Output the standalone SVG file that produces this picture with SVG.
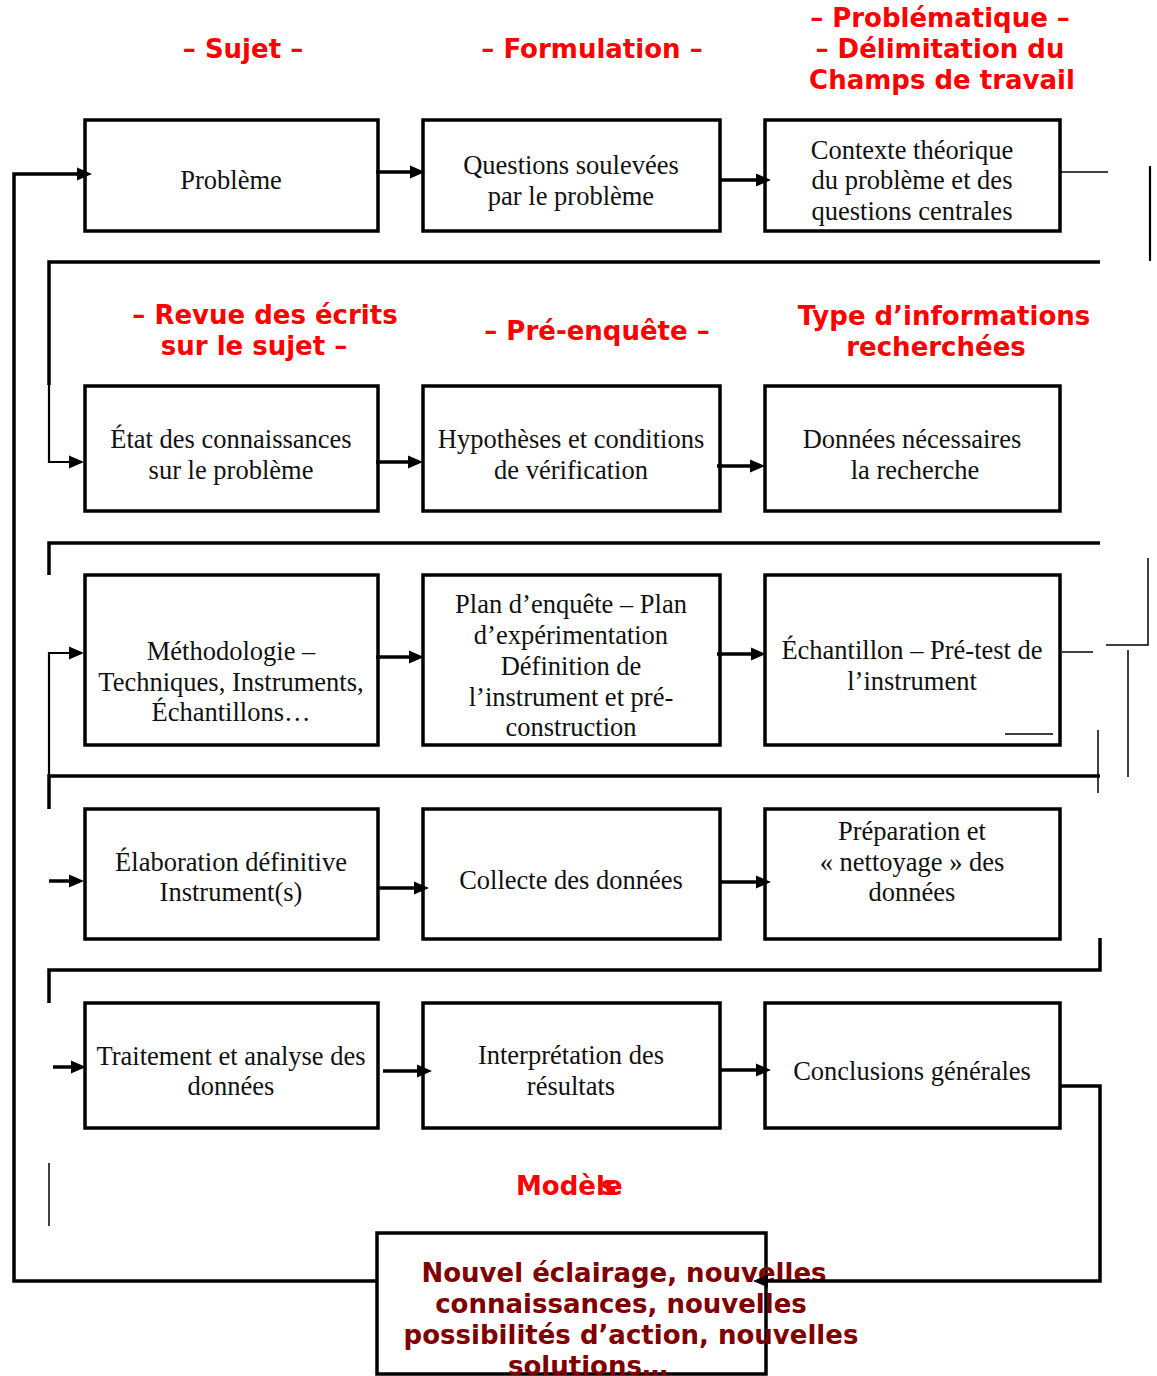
<svg xmlns="http://www.w3.org/2000/svg" width="1157" height="1376" viewBox="0 0 1157 1376">
<defs>
<path id="ah" d="M-15,-6.5 L0,0 L-15,6.5 z" fill="#000"/>
<style>
.box{fill:none;stroke:#000;stroke-width:3.5}
.t{font-family:"Liberation Serif","Times New Roman",serif;font-size:26.5px;fill:#111;text-anchor:middle}
.h{font-family:"DejaVu Sans",sans-serif;font-weight:bold;font-size:26px;fill:#ff0000;text-anchor:middle}
.b{font-family:"DejaVu Sans",sans-serif;font-weight:bold;font-size:26px;fill:#800000;text-anchor:middle}
.k{fill:none;stroke:#000;stroke-width:3.5}
.m{fill:none;stroke:#000;stroke-width:2.2}
.n{fill:none;stroke:#000;stroke-width:1.5}
.a{fill:none;stroke:#000;stroke-width:3.5}
</style>
</defs>
<rect width="1157" height="1376" fill="#fff"/>

<g id="headings">
<text class="h" x="243" y="58">– Sujet –</text>
<text class="h" x="592" y="58">– Formulation –</text>
<text class="h" x="940" y="27">– Problématique –</text>
<text class="h" x="940" y="58">– Délimitation du</text>
<text class="h" x="942" y="89">Champs de travail</text>
<text class="h" x="265" y="324">– Revue des écrits</text>
<text class="h" x="254" y="355">sur le sujet –</text>
<text class="h" x="597" y="340">– Pré-enquête –</text>
<text class="h" x="944" y="325">Type d’informations</text>
<text class="h" x="936" y="356">recherchées</text>
<text class="h" x="516" y="1195" style="text-anchor:start">Modèle</text>
<text class="h" x="601" y="1195" style="text-anchor:start">s</text>
</g>

<g id="n-probleme"><rect class="box" x="85" y="120" width="293" height="111"/><text class="t" x="231" y="189">Problème</text></g>
<g id="n-questions"><rect class="box" x="423" y="120" width="297" height="111"/><text class="t" x="571" y="174">Questions soulevées</text><text class="t" x="571" y="205">par le problème</text></g>
<g id="n-contexte"><rect class="box" x="765" y="120" width="295" height="111"/><text class="t" x="912" y="159">Contexte théorique</text><text class="t" x="912" y="189">du problème et des</text><text class="t" x="912" y="220">questions centrales</text></g>

<g id="n-etat"><rect class="box" x="85" y="386" width="293" height="125"/><text class="t" x="231" y="448">État des connaissances</text><text class="t" x="231" y="479">sur le problème</text></g>
<g id="n-hypotheses"><rect class="box" x="423" y="386" width="297" height="125"/><text class="t" x="571" y="448">Hypothèses et conditions</text><text class="t" x="571" y="479">de vérification</text></g>
<g id="n-donnees"><rect class="box" x="765" y="386" width="295" height="125"/><text class="t" x="912" y="448">Données nécessaires</text><text class="t" x="915" y="479">la recherche</text></g>

<g id="n-methodologie"><rect class="box" x="85" y="575" width="293" height="170"/><text class="t" x="231" y="660">Méthodologie –</text><text class="t" x="231" y="691">Techniques, Instruments,</text><text class="t" x="231" y="721">Échantillons…</text></g>
<g id="n-plan"><rect class="box" x="423" y="575" width="297" height="170"/><text class="t" x="571" y="613">Plan d’enquête – Plan</text><text class="t" x="571" y="644">d’expérimentation</text><text class="t" x="571" y="675">Définition de</text><text class="t" x="571" y="706">l’instrument et pré-</text><text class="t" x="571" y="736">construction</text></g>
<g id="n-echantillon"><rect class="box" x="765" y="575" width="295" height="170"/><text class="t" x="912" y="659">Échantillon – Pré-test de</text><text class="t" x="912" y="690">l’instrument</text></g>

<g id="n-elaboration"><rect class="box" x="85" y="809" width="293" height="130"/><text class="t" x="231" y="871">Élaboration définitive</text><text class="t" x="231" y="901">Instrument(s)</text></g>
<g id="n-collecte"><rect class="box" x="423" y="809" width="297" height="130"/><text class="t" x="571" y="889">Collecte des données</text></g>
<g id="n-preparation"><rect class="box" x="765" y="809" width="295" height="130"/><text class="t" x="912" y="840">Préparation et</text><text class="t" x="912" y="871">« nettoyage » des</text><text class="t" x="912" y="901">données</text></g>

<g id="n-traitement"><rect class="box" x="85" y="1003" width="293" height="125"/><text class="t" x="231" y="1065">Traitement et analyse des</text><text class="t" x="231" y="1095">données</text></g>
<g id="n-interpretation"><rect class="box" x="423" y="1003" width="297" height="125"/><text class="t" x="571" y="1064">Interprétation des</text><text class="t" x="571" y="1095">résultats</text></g>
<g id="n-conclusions"><rect class="box" x="765" y="1003" width="295" height="125"/><text class="t" x="912" y="1080">Conclusions générales</text></g>

<g id="n-nouvel">
<rect class="box" x="377" y="1233" width="389" height="141"/>
<text class="b" x="624" y="1282">Nouvel éclairage, nouvelles</text>
<text class="b" x="621" y="1313">connaissances, nouvelles</text>
<text class="b" x="631" y="1344">possibilités d’action, nouvelles</text>
<text class="b" x="588" y="1375">solutions…</text>
</g>

<g id="connectors">
<path class="k" d="M377,1281 H14 V174 H80"/>
<use href="#ah" x="92" y="174"/>
<path class="k" d="M1100,262 H49 V385"/>
<path class="m" d="M49,384 V462 H72"/>
<use href="#ah" x="84" y="462"/>
<path class="k" d="M1100,543 H49 V575"/>
<path class="m" d="M49,776 V653 H72"/>
<use href="#ah" x="84" y="653"/>
<path class="k" d="M1100,776 H49 V809"/>
<path class="k" d="M1100,938 V970 H49 V1003"/>
<path class="n" d="M49,1163 V1226"/>
<path class="a" d="M376,172 H413"/><use href="#ah" x="425" y="172"/>
<path class="a" d="M720,180 H759"/><use href="#ah" x="771" y="180"/>
<path class="n" d="M1060,172 H1108"/>
<path class="m" d="M1150,166 V261"/>
<path class="a" d="M376,462 H411"/><use href="#ah" x="423" y="462"/>
<path class="a" d="M717,466 H753"/><use href="#ah" x="765" y="466"/>
<path class="a" d="M376,657 H412"/><use href="#ah" x="424" y="657"/>
<path class="a" d="M717,654 H754"/><use href="#ah" x="766" y="654"/>
<path class="n" d="M1062,652 H1093"/>
<path class="n" d="M1106,645 H1148 V558"/>
<path class="n" d="M1128,650 V777"/>
<path class="n" d="M1005,734 H1053"/>
<path class="n" d="M1098,730 V793"/>
<path class="a" d="M49,881 H72"/><use href="#ah" x="84" y="881"/>
<path class="a" d="M378,888 H417"/><use href="#ah" x="429" y="888"/>
<path class="a" d="M720,882 H759"/><use href="#ah" x="771" y="882"/>
<path class="a" d="M53,1067 H74"/><use href="#ah" x="86" y="1067"/>
<path class="a" d="M383,1071 H420"/><use href="#ah" x="432" y="1071"/>
<path class="a" d="M720,1070 H759"/><use href="#ah" x="771" y="1070"/>
<path class="k" d="M1060,1086 H1100 V1281 H765"/>
<use href="#ah" transform="translate(753,1281) rotate(180)"/>
</g>
</svg>
